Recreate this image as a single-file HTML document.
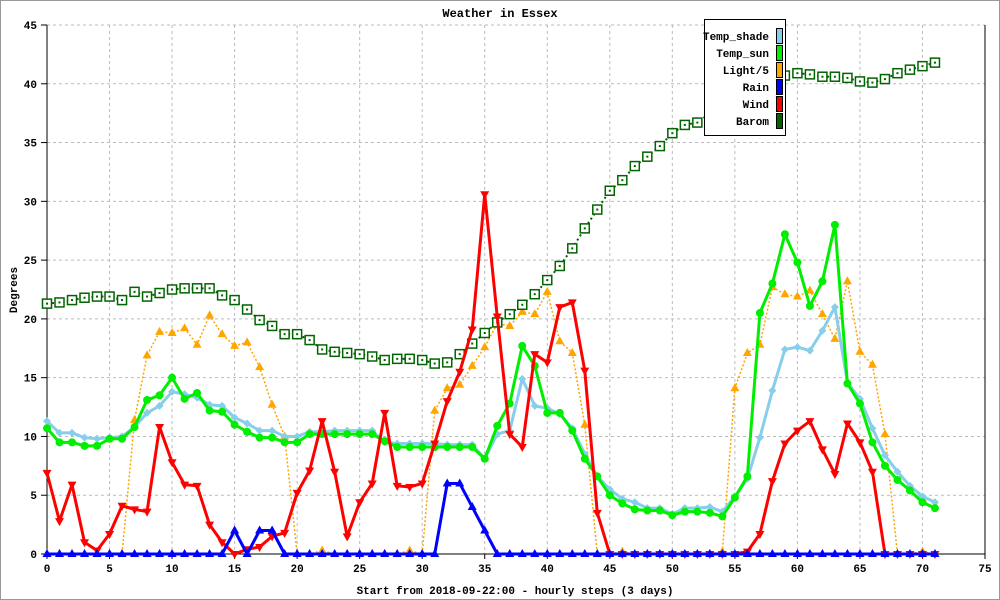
<!DOCTYPE html>
<html><head><meta charset="utf-8"><style>
html,body{margin:0;padding:0;background:#fff}
svg{display:block}
text{font-family:"Liberation Mono",monospace;font-size:11px;font-weight:bold;fill:#000}
</style></head><body>
<svg id="chart" width="1000" height="600" viewBox="0 0 1000 600" xmlns="http://www.w3.org/2000/svg">
<rect x="0.5" y="0.5" width="999" height="599" fill="#fff" stroke="#999" stroke-width="1"/>
<text x="500" y="17" text-anchor="middle" style="font-size:12px">Weather in Essex</text>
<text transform="translate(17,290) rotate(-90)" text-anchor="middle">Degrees</text>
<text x="515" y="594" text-anchor="middle">Start from 2018-09-22:00 - hourly steps (3 days)</text>
<g id="grid"></g><g id="axes"></g><g id="series"></g>
<g>
<rect x="704.5" y="19.5" width="81" height="116" fill="#fff" stroke="#000"/>
<g id="legend"></g>
</g>
</svg>
<script>
const hours=[];for(let i=0;i<72;i++)hours.push(i);
const xTicks=[0,5,10,15,20,25,30,35,40,45,50,55,60,65,70,75];
const yTicks=[0,5,10,15,20,25,30,35,40,45];
const tempShade=[11.3,10.3,10.3,9.9,9.8,9.9,10.0,10.8,12.0,12.6,13.8,13.6,13.3,12.7,12.6,11.6,11.1,10.5,10.5,10.0,10.0,10.4,10.4,10.5,10.5,10.5,10.5,9.5,9.4,9.4,9.4,9.4,9.3,9.3,9.3,8.1,10.2,10.5,14.9,12.6,12.4,11.9,10.7,8.5,6.6,5.5,4.7,4.4,3.9,3.9,3.4,3.9,3.9,4.0,3.6,4.9,6.4,9.9,13.9,17.4,17.6,17.3,19.0,21.0,14.6,13.2,10.7,8.4,7.0,5.8,4.9,4.4];
const tempSun=[10.7,9.5,9.5,9.2,9.2,9.8,9.8,10.8,13.1,13.5,15.0,13.2,13.7,12.2,12.1,11.0,10.4,9.9,9.9,9.5,9.5,10.2,10.2,10.2,10.2,10.2,10.2,9.6,9.1,9.1,9.1,9.1,9.1,9.1,9.1,8.1,10.9,12.8,17.7,16.0,12.0,12.0,10.5,8.1,6.6,5.0,4.3,3.8,3.7,3.7,3.3,3.6,3.6,3.5,3.2,4.8,6.6,20.5,23.0,27.2,24.8,21.1,23.2,28.0,14.5,12.8,9.5,7.5,6.3,5.4,4.4,3.9];
const light5=[0,0,0,0,0,0,0,11.4,16.9,18.9,18.8,19.2,17.8,20.3,18.7,17.7,18.0,15.9,12.7,10.0,0,0,0.3,0,0,0,0,0,0,0.3,0,12.2,14.1,14.4,16.0,17.6,19.6,19.4,20.6,20.4,22.3,18.1,17.1,11.0,0,0,0.2,0,0,0,0,0,0,0,0.2,14.1,17.1,17.8,22.7,22.1,21.9,22.4,20.4,18.3,23.2,17.2,16.1,10.2,0,0,0.2,0];
const rain=[0,0,0,0,0,0,0,0,0,0,0,0,0,0,0,2,0,2,2,0,0,0,0,0,0,0,0,0,0,0,0,0,6,6,4,2,0,0,0,0,0,0,0,0,0,0,0,0,0,0,0,0,0,0,0,0,0,0,0,0,0,0,0,0,0,0,0,0,0,0,0,0];
const wind=[6.9,2.8,5.9,1.0,0.3,1.7,4.1,3.8,3.6,10.8,7.8,5.9,5.8,2.5,1.0,0,0.4,0.6,1.5,1.8,5.2,7.1,11.3,7.0,1.5,4.4,6.0,12.0,5.8,5.7,6.0,9.4,13.0,15.5,19.1,30.6,20.2,10.2,9.1,17.0,16.3,21.0,21.4,15.6,3.5,0,0,0,0,0,0,0,0,0,0,0,0.2,1.7,6.2,9.4,10.5,11.3,8.9,6.8,11.1,9.5,7.0,0,0,0,0,0];
const barom=[21.3,21.4,21.6,21.8,21.9,21.9,21.6,22.3,21.9,22.2,22.5,22.6,22.6,22.6,22.0,21.6,20.8,19.9,19.4,18.7,18.7,18.2,17.4,17.2,17.1,17.0,16.8,16.5,16.6,16.6,16.5,16.2,16.3,17.0,17.9,18.8,19.7,20.4,21.2,22.1,23.3,24.5,26.0,27.7,29.3,30.9,31.8,33.0,33.8,34.7,35.8,36.5,36.7,37.5,38.1,38.5,39.0,39.7,40.3,40.7,40.9,40.8,40.6,40.6,40.5,40.2,40.1,40.4,40.9,41.2,41.5,41.8];
const seriesNames=["Temp_shade","Temp_sun","Light/5","Rain","Wind","Barom"];
const seriesColors=["#87ceeb","#00ee00","#ffa500","#0000ff","#ff0000","#006400"];

const X0=47,X1=985,Y0=554,Y1=25;
const xs=v=>X0+(v-0)/(75-0)*(X1-X0);
const ys=v=>Y0-(v-0)/(45-0)*(Y0-Y1);
const NS="http://www.w3.org/2000/svg";
function mk(tag,parent,attrs){const e=document.createElementNS(NS,tag);for(const k in attrs)e.setAttribute(k,attrs[k]);parent.appendChild(e);return e;}
const grid=document.getElementById('grid'),axes=document.getElementById('axes'),ser=document.getElementById('series');
xTicks.forEach(t=>{
  if(t>0&&t<75){const l=mk('line',grid,{x1:xs(t),x2:xs(t),y1:Y1,y2:Y0,stroke:'#bbb','stroke-dasharray':'3,3'});
  
  }
  const tk=mk('line',axes,{x1:xs(t),x2:xs(t),y1:Y0,y2:Y0+5,stroke:'#000'});
  
  
  const tx=mk('text',axes,{x:xs(t),y:Y0+18,'text-anchor':'middle'});tx.textContent=t;
  
  
});
yTicks.forEach(t=>{
  if(t>0){const l=mk('line',grid,{x1:X0,x2:X1,y1:ys(t),y2:ys(t),stroke:'#bbb','stroke-dasharray':'3,3'});
  
  }
  const tk=mk('line',axes,{x1:X0-6,x2:X0,y1:ys(t),y2:ys(t),stroke:'#000'});
  
  
  const tx=mk('text',axes,{x:X0-10,y:ys(t)+4,'text-anchor':'end'});tx.textContent=t;
  
  
});
const ax1=mk('line',axes,{x1:X0,x2:X0,y1:Y1,y2:Y0,stroke:'#000'});


const ax2=mk('line',axes,{x1:X0,x2:X1,y1:Y0,y2:Y0,stroke:'#000'});


const ax3=mk('line',axes,{x1:X1,x2:X1,y1:Y1,y2:Y0,stroke:'#000'});



function marker(g,type,cx,cy,color){
  let e;
  if(type==='dia')e=mk('polygon',g,{points:`${cx},${cy-4} ${cx+4},${cy} ${cx},${cy+4} ${cx-4},${cy}`,fill:color});
  else if(type==='circ')e=mk('circle',g,{cx:cx,cy:cy,r:4,fill:color});
  else if(type==='up')e=mk('polygon',g,{points:`${cx},${cy-5} ${cx+4.5},${cy+3} ${cx-4.5},${cy+3}`,fill:color});
  else if(type==='down')e=mk('polygon',g,{points:`${cx},${cy+5} ${cx+4.5},${cy-3} ${cx-4.5},${cy-3}`,fill:color});
  else if(type==='sq'){e=mk('rect',g,{x:cx-4.5,y:cy-4.5,width:9,height:9,fill:'#fff',stroke:color,'stroke-width':1.5});mk('rect',g,{x:cx-1,y:cy-1,width:2,height:2,fill:color});}
  return e;
}
const allData=[tempShade,tempSun,light5,rain,wind,barom];
const styles=[{w:3,dash:null,m:'dia'},{w:3,dash:null,m:'circ'},{w:1.5,dash:'2,2',m:'up'},{w:3,dash:null,m:'up'},{w:3,dash:null,m:'down'},{w:2,dash:'2,3',m:'sq'}];
const slugs=['temp-shade','temp-sun','light','rain','wind','barom'];
const order=[2,5,0,1,4,3];
order.forEach(i=>{
  const g=mk('g',ser,{});
  
  
  const d=allData[i];
  const pts=d.map((v,j)=>xs(hours[j])+','+ys(v)).join(' ');
  const st=styles[i];
  const pl=mk('polyline',g,{points:pts,fill:'none',stroke:seriesColors[i],'stroke-width':st.w,'stroke-linejoin':'round'});
  if(st.dash)pl.setAttribute('stroke-dasharray',st.dash);
  
  
  d.forEach((v,j)=>{const m=marker(g,st.m,xs(hours[j]),ys(v),seriesColors[i]);
    
    });
});
const lg=document.getElementById('legend');
seriesNames.forEach((n,i)=>{
  const y=36+i*17;
  const t=mk('text',lg,{x:769,y:y+4,'text-anchor':'end'});t.textContent=n;
  
  
  const r=mk('rect',lg,{x:776.5,y:y-7.5,width:6,height:15,fill:seriesColors[i],stroke:'#000'});
  
  
});
</script>
</body></html>
